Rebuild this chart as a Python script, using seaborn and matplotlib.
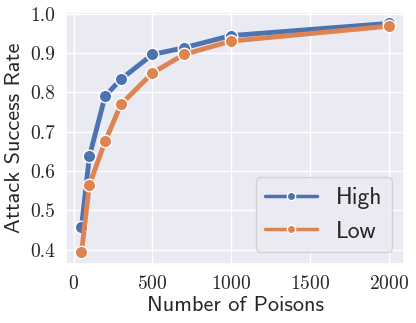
import matplotlib
matplotlib.use("Agg")
import matplotlib.pyplot as plt
import pandas as pd
import seaborn as sns

sns.set_theme(style="darkgrid")
plt.rcParams["axes.formatter.use_mathtext"] = True

# number of poisons and attack success rate per setting
poisons = [50, 100, 200, 300, 500, 700, 1000, 2000]
high = [0.457, 0.637, 0.790, 0.833, 0.896, 0.913, 0.944, 0.975]
low = [0.393, 0.565, 0.675, 0.769, 0.849, 0.896, 0.930, 0.968]

df = pd.DataFrame({
    "Number of Poisons": poisons * 2,
    "Attack Success Rate": high + low,
    "setting": ["High"] * len(poisons) + ["Low"] * len(poisons),
})

fig, ax = plt.subplots(figsize=(4.16, 3.23), dpi=100)
sns.lineplot(data=df, x="Number of Poisons", y="Attack Success Rate",
             hue="setting", marker="o", markersize=9, linewidth=3.5,
             markeredgecolor="white", markeredgewidth=1, ax=ax)

ax.set_xticks([0, 500, 1000, 1500, 2000])
ax.set_yticks([0.4, 0.5, 0.6, 0.7, 0.8, 0.9, 1.0])
ax.set_yticklabels(["0.4", "0.5", "0.6", "0.7", "0.8", "0.9", "1.0"])
for t in ax.get_xticklabels() + ax.get_yticklabels():
    t.set_fontfamily("cmr10")
    t.set_fontsize(14)
ax.tick_params(pad=2)
ax.set_xlabel("Number of Poisons", fontfamily="cmss10", fontsize=16, labelpad=2)
ax.set_ylabel("Attack Success Rate", fontfamily="cmss10", fontsize=16, labelpad=4)

leg = ax.legend(loc="lower right", prop={"family": "cmss10", "size": 17},
                handlelength=2.2, borderpad=0.4, labelspacing=0.5)
for h in leg.get_lines():
    h.set_linewidth(2.5)
    h.set_markersize(6)

fig.subplots_adjust(left=0.159, right=0.971, top=0.963, bottom=0.183)
fig.savefig("out.png", dpi=100)
